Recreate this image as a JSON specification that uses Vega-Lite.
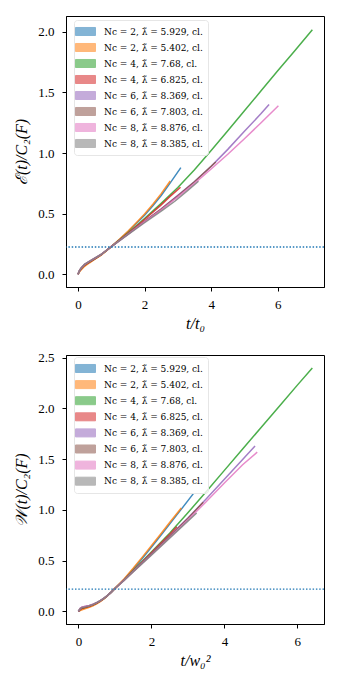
{
  "$schema": "https://vega.github.io/schema/vega-lite/v6.json",
  "padding": {"left": 12, "top": 15, "right": 5, "bottom": 5},
  "background": "white",
  "config": {
    "font": "Liberation Serif, DejaVu Serif, serif",
    "view": {"stroke": "black", "strokeWidth": 1},
    "axis": {"grid": false, "domainColor": "black", "tickColor": "black", "tickSize": 4, "labelFontSize": 13, "titleFontSize": 16, "titleFontWeight": "normal", "labelColor": "black", "titleColor": "black", "labelFont": "Liberation Serif, DejaVu Serif, serif", "titleFont": "Liberation Serif, DejaVu Serif, serif", "titleFontStyle": "italic"},
    "legend": {"labelFont": "DejaVu Serif, serif", "labelFontSize": 9, "labelColor": "black"}
  },
  "spacing": 19,
  "resolve": {"legend": {"color": "independent"}, "scale": {"x": "independent", "y": "independent"}},
  "datasets": {
    "E": [
      {"s": "Nc = 2, λ̃ = 5.929, cl.", "t": 0, "v": 0}, {"s": "Nc = 2, λ̃ = 5.929, cl.", "t": 0.05, "v": 0.028}, {"s": "Nc = 2, λ̃ = 5.929, cl.", "t": 0.1, "v": 0.046}, {"s": "Nc = 2, λ̃ = 5.929, cl.", "t": 0.2, "v": 0.074}, {"s": "Nc = 2, λ̃ = 5.929, cl.", "t": 0.35, "v": 0.101}, {"s": "Nc = 2, λ̃ = 5.929, cl.", "t": 0.5, "v": 0.126}, {"s": "Nc = 2, λ̃ = 5.929, cl.", "t": 0.7, "v": 0.161}, {"s": "Nc = 2, λ̃ = 5.929, cl.", "t": 0.85, "v": 0.194}, {"s": "Nc = 2, λ̃ = 5.929, cl.", "t": 1.0, "v": 0.228}, {"s": "Nc = 2, λ̃ = 5.929, cl.", "t": 1.25, "v": 0.287}, {"s": "Nc = 2, λ̃ = 5.929, cl.", "t": 1.5, "v": 0.35}, {"s": "Nc = 2, λ̃ = 5.929, cl.", "t": 1.75, "v": 0.418}, {"s": "Nc = 2, λ̃ = 5.929, cl.", "t": 2.0, "v": 0.487}, {"s": "Nc = 2, λ̃ = 5.929, cl.", "t": 2.25, "v": 0.565}, {"s": "Nc = 2, λ̃ = 5.929, cl.", "t": 2.5, "v": 0.65}, {"s": "Nc = 2, λ̃ = 5.929, cl.", "t": 2.75, "v": 0.745}, {"s": "Nc = 2, λ̃ = 5.929, cl.", "t": 3.09, "v": 0.879},
      {"s": "Nc = 2, λ̃ = 5.402, cl.", "t": 0, "v": 0}, {"s": "Nc = 2, λ̃ = 5.402, cl.", "t": 0.05, "v": 0.022}, {"s": "Nc = 2, λ̃ = 5.402, cl.", "t": 0.1, "v": 0.038}, {"s": "Nc = 2, λ̃ = 5.402, cl.", "t": 0.2, "v": 0.066}, {"s": "Nc = 2, λ̃ = 5.402, cl.", "t": 0.35, "v": 0.095}, {"s": "Nc = 2, λ̃ = 5.402, cl.", "t": 0.5, "v": 0.122}, {"s": "Nc = 2, λ̃ = 5.402, cl.", "t": 0.7, "v": 0.158}, {"s": "Nc = 2, λ̃ = 5.402, cl.", "t": 0.85, "v": 0.193}, {"s": "Nc = 2, λ̃ = 5.402, cl.", "t": 1.0, "v": 0.229}, {"s": "Nc = 2, λ̃ = 5.402, cl.", "t": 1.25, "v": 0.29}, {"s": "Nc = 2, λ̃ = 5.402, cl.", "t": 1.5, "v": 0.355}, {"s": "Nc = 2, λ̃ = 5.402, cl.", "t": 1.75, "v": 0.425}, {"s": "Nc = 2, λ̃ = 5.402, cl.", "t": 2.0, "v": 0.497}, {"s": "Nc = 2, λ̃ = 5.402, cl.", "t": 2.25, "v": 0.577}, {"s": "Nc = 2, λ̃ = 5.402, cl.", "t": 2.5, "v": 0.665}, {"s": "Nc = 2, λ̃ = 5.402, cl.", "t": 2.77, "v": 0.769},
      {"s": "Nc = 4, λ̃ = 7.68, cl.", "t": 0, "v": 0}, {"s": "Nc = 4, λ̃ = 7.68, cl.", "t": 0.05, "v": 0.03}, {"s": "Nc = 4, λ̃ = 7.68, cl.", "t": 0.1, "v": 0.048}, {"s": "Nc = 4, λ̃ = 7.68, cl.", "t": 0.2, "v": 0.076}, {"s": "Nc = 4, λ̃ = 7.68, cl.", "t": 0.35, "v": 0.103}, {"s": "Nc = 4, λ̃ = 7.68, cl.", "t": 0.5, "v": 0.128}, {"s": "Nc = 4, λ̃ = 7.68, cl.", "t": 0.7, "v": 0.162}, {"s": "Nc = 4, λ̃ = 7.68, cl.", "t": 0.85, "v": 0.195}, {"s": "Nc = 4, λ̃ = 7.68, cl.", "t": 1.0, "v": 0.228}, {"s": "Nc = 4, λ̃ = 7.68, cl.", "t": 1.25, "v": 0.283}, {"s": "Nc = 4, λ̃ = 7.68, cl.", "t": 1.5, "v": 0.34}, {"s": "Nc = 4, λ̃ = 7.68, cl.", "t": 2.0, "v": 0.46}, {"s": "Nc = 4, λ̃ = 7.68, cl.", "t": 2.5, "v": 0.585}, {"s": "Nc = 4, λ̃ = 7.68, cl.", "t": 3.0, "v": 0.715}, {"s": "Nc = 4, λ̃ = 7.68, cl.", "t": 3.5, "v": 0.862}, {"s": "Nc = 4, λ̃ = 7.68, cl.", "t": 4.0, "v": 1.02}, {"s": "Nc = 4, λ̃ = 7.68, cl.", "t": 4.5, "v": 1.183}, {"s": "Nc = 4, λ̃ = 7.68, cl.", "t": 5.0, "v": 1.348}, {"s": "Nc = 4, λ̃ = 7.68, cl.", "t": 5.5, "v": 1.513}, {"s": "Nc = 4, λ̃ = 7.68, cl.", "t": 6.0, "v": 1.678}, {"s": "Nc = 4, λ̃ = 7.68, cl.", "t": 6.5, "v": 1.84}, {"s": "Nc = 4, λ̃ = 7.68, cl.", "t": 7.04, "v": 2.017},
      {"s": "Nc = 4, λ̃ = 6.825, cl.", "t": 0, "v": 0}, {"s": "Nc = 4, λ̃ = 6.825, cl.", "t": 0.05, "v": 0.029}, {"s": "Nc = 4, λ̃ = 6.825, cl.", "t": 0.1, "v": 0.047}, {"s": "Nc = 4, λ̃ = 6.825, cl.", "t": 0.2, "v": 0.075}, {"s": "Nc = 4, λ̃ = 6.825, cl.", "t": 0.35, "v": 0.102}, {"s": "Nc = 4, λ̃ = 6.825, cl.", "t": 0.5, "v": 0.127}, {"s": "Nc = 4, λ̃ = 6.825, cl.", "t": 0.7, "v": 0.162}, {"s": "Nc = 4, λ̃ = 6.825, cl.", "t": 0.85, "v": 0.195}, {"s": "Nc = 4, λ̃ = 6.825, cl.", "t": 1.0, "v": 0.228}, {"s": "Nc = 4, λ̃ = 6.825, cl.", "t": 1.25, "v": 0.281}, {"s": "Nc = 4, λ̃ = 6.825, cl.", "t": 1.5, "v": 0.336}, {"s": "Nc = 4, λ̃ = 6.825, cl.", "t": 2.0, "v": 0.452}, {"s": "Nc = 4, λ̃ = 6.825, cl.", "t": 2.5, "v": 0.572}, {"s": "Nc = 4, λ̃ = 6.825, cl.", "t": 2.75, "v": 0.638}, {"s": "Nc = 4, λ̃ = 6.825, cl.", "t": 3.08, "v": 0.718},
      {"s": "Nc = 6, λ̃ = 8.369, cl.", "t": 0, "v": 0}, {"s": "Nc = 6, λ̃ = 8.369, cl.", "t": 0.05, "v": 0.033}, {"s": "Nc = 6, λ̃ = 8.369, cl.", "t": 0.1, "v": 0.052}, {"s": "Nc = 6, λ̃ = 8.369, cl.", "t": 0.2, "v": 0.081}, {"s": "Nc = 6, λ̃ = 8.369, cl.", "t": 0.35, "v": 0.107}, {"s": "Nc = 6, λ̃ = 8.369, cl.", "t": 0.5, "v": 0.131}, {"s": "Nc = 6, λ̃ = 8.369, cl.", "t": 0.7, "v": 0.164}, {"s": "Nc = 6, λ̃ = 8.369, cl.", "t": 0.85, "v": 0.196}, {"s": "Nc = 6, λ̃ = 8.369, cl.", "t": 1.0, "v": 0.228}, {"s": "Nc = 6, λ̃ = 8.369, cl.", "t": 1.25, "v": 0.279}, {"s": "Nc = 6, λ̃ = 8.369, cl.", "t": 1.5, "v": 0.331}, {"s": "Nc = 6, λ̃ = 8.369, cl.", "t": 2.0, "v": 0.437}, {"s": "Nc = 6, λ̃ = 8.369, cl.", "t": 2.5, "v": 0.54}, {"s": "Nc = 6, λ̃ = 8.369, cl.", "t": 3.0, "v": 0.65}, {"s": "Nc = 6, λ̃ = 8.369, cl.", "t": 3.5, "v": 0.765}, {"s": "Nc = 6, λ̃ = 8.369, cl.", "t": 4.0, "v": 0.89}, {"s": "Nc = 6, λ̃ = 8.369, cl.", "t": 4.5, "v": 1.03}, {"s": "Nc = 6, λ̃ = 8.369, cl.", "t": 5.0, "v": 1.18}, {"s": "Nc = 6, λ̃ = 8.369, cl.", "t": 5.5, "v": 1.325}, {"s": "Nc = 6, λ̃ = 8.369, cl.", "t": 5.74, "v": 1.4},
      {"s": "Nc = 6, λ̃ = 7.803, cl.", "t": 0, "v": 0}, {"s": "Nc = 6, λ̃ = 7.803, cl.", "t": 0.05, "v": 0.032}, {"s": "Nc = 6, λ̃ = 7.803, cl.", "t": 0.1, "v": 0.051}, {"s": "Nc = 6, λ̃ = 7.803, cl.", "t": 0.2, "v": 0.08}, {"s": "Nc = 6, λ̃ = 7.803, cl.", "t": 0.35, "v": 0.106}, {"s": "Nc = 6, λ̃ = 7.803, cl.", "t": 0.5, "v": 0.13}, {"s": "Nc = 6, λ̃ = 7.803, cl.", "t": 0.7, "v": 0.164}, {"s": "Nc = 6, λ̃ = 7.803, cl.", "t": 0.85, "v": 0.196}, {"s": "Nc = 6, λ̃ = 7.803, cl.", "t": 1.0, "v": 0.228}, {"s": "Nc = 6, λ̃ = 7.803, cl.", "t": 1.25, "v": 0.279}, {"s": "Nc = 6, λ̃ = 7.803, cl.", "t": 1.5, "v": 0.331}, {"s": "Nc = 6, λ̃ = 7.803, cl.", "t": 2.0, "v": 0.436}, {"s": "Nc = 6, λ̃ = 7.803, cl.", "t": 2.5, "v": 0.538}, {"s": "Nc = 6, λ̃ = 7.803, cl.", "t": 3.0, "v": 0.647}, {"s": "Nc = 6, λ̃ = 7.803, cl.", "t": 3.5, "v": 0.763}, {"s": "Nc = 6, λ̃ = 7.803, cl.", "t": 4.14, "v": 0.926},
      {"s": "Nc = 8, λ̃ = 8.876, cl.", "t": 0, "v": 0}, {"s": "Nc = 8, λ̃ = 8.876, cl.", "t": 0.05, "v": 0.034}, {"s": "Nc = 8, λ̃ = 8.876, cl.", "t": 0.1, "v": 0.053}, {"s": "Nc = 8, λ̃ = 8.876, cl.", "t": 0.2, "v": 0.082}, {"s": "Nc = 8, λ̃ = 8.876, cl.", "t": 0.35, "v": 0.108}, {"s": "Nc = 8, λ̃ = 8.876, cl.", "t": 0.5, "v": 0.132}, {"s": "Nc = 8, λ̃ = 8.876, cl.", "t": 0.7, "v": 0.165}, {"s": "Nc = 8, λ̃ = 8.876, cl.", "t": 0.85, "v": 0.196}, {"s": "Nc = 8, λ̃ = 8.876, cl.", "t": 1.0, "v": 0.228}, {"s": "Nc = 8, λ̃ = 8.876, cl.", "t": 1.25, "v": 0.278}, {"s": "Nc = 8, λ̃ = 8.876, cl.", "t": 1.5, "v": 0.329}, {"s": "Nc = 8, λ̃ = 8.876, cl.", "t": 2.0, "v": 0.432}, {"s": "Nc = 8, λ̃ = 8.876, cl.", "t": 2.5, "v": 0.532}, {"s": "Nc = 8, λ̃ = 8.876, cl.", "t": 3.0, "v": 0.638}, {"s": "Nc = 8, λ̃ = 8.876, cl.", "t": 3.5, "v": 0.75}, {"s": "Nc = 8, λ̃ = 8.876, cl.", "t": 4.0, "v": 0.868}, {"s": "Nc = 8, λ̃ = 8.876, cl.", "t": 4.5, "v": 0.99}, {"s": "Nc = 8, λ̃ = 8.876, cl.", "t": 5.0, "v": 1.118}, {"s": "Nc = 8, λ̃ = 8.876, cl.", "t": 5.5, "v": 1.25}, {"s": "Nc = 8, λ̃ = 8.876, cl.", "t": 6.02, "v": 1.39},
      {"s": "Nc = 8, λ̃ = 8.385, cl.", "t": 0, "v": 0}, {"s": "Nc = 8, λ̃ = 8.385, cl.", "t": 0.05, "v": 0.034}, {"s": "Nc = 8, λ̃ = 8.385, cl.", "t": 0.1, "v": 0.054}, {"s": "Nc = 8, λ̃ = 8.385, cl.", "t": 0.2, "v": 0.083}, {"s": "Nc = 8, λ̃ = 8.385, cl.", "t": 0.35, "v": 0.109}, {"s": "Nc = 8, λ̃ = 8.385, cl.", "t": 0.5, "v": 0.133}, {"s": "Nc = 8, λ̃ = 8.385, cl.", "t": 0.7, "v": 0.165}, {"s": "Nc = 8, λ̃ = 8.385, cl.", "t": 0.85, "v": 0.196}, {"s": "Nc = 8, λ̃ = 8.385, cl.", "t": 1.0, "v": 0.227}, {"s": "Nc = 8, λ̃ = 8.385, cl.", "t": 1.25, "v": 0.277}, {"s": "Nc = 8, λ̃ = 8.385, cl.", "t": 1.5, "v": 0.327}, {"s": "Nc = 8, λ̃ = 8.385, cl.", "t": 2.0, "v": 0.425}, {"s": "Nc = 8, λ̃ = 8.385, cl.", "t": 2.5, "v": 0.52}, {"s": "Nc = 8, λ̃ = 8.385, cl.", "t": 2.92, "v": 0.604}, {"s": "Nc = 8, λ̃ = 8.385, cl.", "t": 3.3, "v": 0.692}, {"s": "Nc = 8, λ̃ = 8.385, cl.", "t": 3.62, "v": 0.767}
    ],
    "W": [
      {"s": "Nc = 2, λ̃ = 5.929, cl.", "t": 0, "v": 0}, {"s": "Nc = 2, λ̃ = 5.929, cl.", "t": 0.05, "v": 0.018}, {"s": "Nc = 2, λ̃ = 5.929, cl.", "t": 0.1, "v": 0.028}, {"s": "Nc = 2, λ̃ = 5.929, cl.", "t": 0.2, "v": 0.038}, {"s": "Nc = 2, λ̃ = 5.929, cl.", "t": 0.3, "v": 0.049}, {"s": "Nc = 2, λ̃ = 5.929, cl.", "t": 0.4, "v": 0.062}, {"s": "Nc = 2, λ̃ = 5.929, cl.", "t": 0.5, "v": 0.08}, {"s": "Nc = 2, λ̃ = 5.929, cl.", "t": 0.6, "v": 0.101}, {"s": "Nc = 2, λ̃ = 5.929, cl.", "t": 0.7, "v": 0.126}, {"s": "Nc = 2, λ̃ = 5.929, cl.", "t": 0.8, "v": 0.156}, {"s": "Nc = 2, λ̃ = 5.929, cl.", "t": 0.9, "v": 0.19}, {"s": "Nc = 2, λ̃ = 5.929, cl.", "t": 1.0, "v": 0.226}, {"s": "Nc = 2, λ̃ = 5.929, cl.", "t": 1.25, "v": 0.315}, {"s": "Nc = 2, λ̃ = 5.929, cl.", "t": 1.5, "v": 0.415}, {"s": "Nc = 2, λ̃ = 5.929, cl.", "t": 1.75, "v": 0.522}, {"s": "Nc = 2, λ̃ = 5.929, cl.", "t": 2.0, "v": 0.632}, {"s": "Nc = 2, λ̃ = 5.929, cl.", "t": 2.25, "v": 0.745}, {"s": "Nc = 2, λ̃ = 5.929, cl.", "t": 2.5, "v": 0.86}, {"s": "Nc = 2, λ̃ = 5.929, cl.", "t": 2.8, "v": 0.998}, {"s": "Nc = 2, λ̃ = 5.929, cl.", "t": 3.15, "v": 1.161},
      {"s": "Nc = 2, λ̃ = 5.402, cl.", "t": 0, "v": 0}, {"s": "Nc = 2, λ̃ = 5.402, cl.", "t": 0.05, "v": 0.008}, {"s": "Nc = 2, λ̃ = 5.402, cl.", "t": 0.1, "v": 0.016}, {"s": "Nc = 2, λ̃ = 5.402, cl.", "t": 0.2, "v": 0.028}, {"s": "Nc = 2, λ̃ = 5.402, cl.", "t": 0.3, "v": 0.04}, {"s": "Nc = 2, λ̃ = 5.402, cl.", "t": 0.4, "v": 0.055}, {"s": "Nc = 2, λ̃ = 5.402, cl.", "t": 0.5, "v": 0.074}, {"s": "Nc = 2, λ̃ = 5.402, cl.", "t": 0.6, "v": 0.097}, {"s": "Nc = 2, λ̃ = 5.402, cl.", "t": 0.7, "v": 0.123}, {"s": "Nc = 2, λ̃ = 5.402, cl.", "t": 0.8, "v": 0.154}, {"s": "Nc = 2, λ̃ = 5.402, cl.", "t": 0.9, "v": 0.189}, {"s": "Nc = 2, λ̃ = 5.402, cl.", "t": 1.0, "v": 0.227}, {"s": "Nc = 2, λ̃ = 5.402, cl.", "t": 1.25, "v": 0.32}, {"s": "Nc = 2, λ̃ = 5.402, cl.", "t": 1.5, "v": 0.425}, {"s": "Nc = 2, λ̃ = 5.402, cl.", "t": 1.75, "v": 0.535}, {"s": "Nc = 2, λ̃ = 5.402, cl.", "t": 2.0, "v": 0.647}, {"s": "Nc = 2, λ̃ = 5.402, cl.", "t": 2.25, "v": 0.76}, {"s": "Nc = 2, λ̃ = 5.402, cl.", "t": 2.5, "v": 0.877}, {"s": "Nc = 2, λ̃ = 5.402, cl.", "t": 2.82, "v": 1.02},
      {"s": "Nc = 4, λ̃ = 7.68, cl.", "t": 0, "v": 0}, {"s": "Nc = 4, λ̃ = 7.68, cl.", "t": 0.05, "v": 0.022}, {"s": "Nc = 4, λ̃ = 7.68, cl.", "t": 0.1, "v": 0.032}, {"s": "Nc = 4, λ̃ = 7.68, cl.", "t": 0.2, "v": 0.042}, {"s": "Nc = 4, λ̃ = 7.68, cl.", "t": 0.3, "v": 0.052}, {"s": "Nc = 4, λ̃ = 7.68, cl.", "t": 0.4, "v": 0.065}, {"s": "Nc = 4, λ̃ = 7.68, cl.", "t": 0.5, "v": 0.083}, {"s": "Nc = 4, λ̃ = 7.68, cl.", "t": 0.6, "v": 0.104}, {"s": "Nc = 4, λ̃ = 7.68, cl.", "t": 0.7, "v": 0.128}, {"s": "Nc = 4, λ̃ = 7.68, cl.", "t": 0.8, "v": 0.157}, {"s": "Nc = 4, λ̃ = 7.68, cl.", "t": 0.9, "v": 0.19}, {"s": "Nc = 4, λ̃ = 7.68, cl.", "t": 1.0, "v": 0.226}, {"s": "Nc = 4, λ̃ = 7.68, cl.", "t": 1.25, "v": 0.31}, {"s": "Nc = 4, λ̃ = 7.68, cl.", "t": 1.5, "v": 0.403}, {"s": "Nc = 4, λ̃ = 7.68, cl.", "t": 2.0, "v": 0.585}, {"s": "Nc = 4, λ̃ = 7.68, cl.", "t": 2.5, "v": 0.77}, {"s": "Nc = 4, λ̃ = 7.68, cl.", "t": 3.0, "v": 0.972}, {"s": "Nc = 4, λ̃ = 7.68, cl.", "t": 3.5, "v": 1.18}, {"s": "Nc = 4, λ̃ = 7.68, cl.", "t": 4.0, "v": 1.39}, {"s": "Nc = 4, λ̃ = 7.68, cl.", "t": 4.5, "v": 1.6}, {"s": "Nc = 4, λ̃ = 7.68, cl.", "t": 5.0, "v": 1.81}, {"s": "Nc = 4, λ̃ = 7.68, cl.", "t": 5.5, "v": 2.02}, {"s": "Nc = 4, λ̃ = 7.68, cl.", "t": 6.0, "v": 2.23}, {"s": "Nc = 4, λ̃ = 7.68, cl.", "t": 6.41, "v": 2.4},
      {"s": "Nc = 4, λ̃ = 6.825, cl.", "t": 0, "v": 0}, {"s": "Nc = 4, λ̃ = 6.825, cl.", "t": 0.05, "v": 0.02}, {"s": "Nc = 4, λ̃ = 6.825, cl.", "t": 0.1, "v": 0.03}, {"s": "Nc = 4, λ̃ = 6.825, cl.", "t": 0.2, "v": 0.04}, {"s": "Nc = 4, λ̃ = 6.825, cl.", "t": 0.3, "v": 0.051}, {"s": "Nc = 4, λ̃ = 6.825, cl.", "t": 0.4, "v": 0.064}, {"s": "Nc = 4, λ̃ = 6.825, cl.", "t": 0.5, "v": 0.082}, {"s": "Nc = 4, λ̃ = 6.825, cl.", "t": 0.6, "v": 0.103}, {"s": "Nc = 4, λ̃ = 6.825, cl.", "t": 0.7, "v": 0.128}, {"s": "Nc = 4, λ̃ = 6.825, cl.", "t": 0.8, "v": 0.157}, {"s": "Nc = 4, λ̃ = 6.825, cl.", "t": 0.9, "v": 0.19}, {"s": "Nc = 4, λ̃ = 6.825, cl.", "t": 1.0, "v": 0.226}, {"s": "Nc = 4, λ̃ = 6.825, cl.", "t": 1.25, "v": 0.308}, {"s": "Nc = 4, λ̃ = 6.825, cl.", "t": 1.5, "v": 0.398}, {"s": "Nc = 4, λ̃ = 6.825, cl.", "t": 2.0, "v": 0.578}, {"s": "Nc = 4, λ̃ = 6.825, cl.", "t": 2.25, "v": 0.668}, {"s": "Nc = 4, λ̃ = 6.825, cl.", "t": 2.5, "v": 0.758}, {"s": "Nc = 4, λ̃ = 6.825, cl.", "t": 2.7, "v": 0.835},
      {"s": "Nc = 6, λ̃ = 8.369, cl.", "t": 0, "v": 0}, {"s": "Nc = 6, λ̃ = 8.369, cl.", "t": 0.05, "v": 0.03}, {"s": "Nc = 6, λ̃ = 8.369, cl.", "t": 0.1, "v": 0.042}, {"s": "Nc = 6, λ̃ = 8.369, cl.", "t": 0.2, "v": 0.05}, {"s": "Nc = 6, λ̃ = 8.369, cl.", "t": 0.3, "v": 0.058}, {"s": "Nc = 6, λ̃ = 8.369, cl.", "t": 0.4, "v": 0.07}, {"s": "Nc = 6, λ̃ = 8.369, cl.", "t": 0.5, "v": 0.086}, {"s": "Nc = 6, λ̃ = 8.369, cl.", "t": 0.6, "v": 0.106}, {"s": "Nc = 6, λ̃ = 8.369, cl.", "t": 0.7, "v": 0.13}, {"s": "Nc = 6, λ̃ = 8.369, cl.", "t": 0.8, "v": 0.158}, {"s": "Nc = 6, λ̃ = 8.369, cl.", "t": 0.9, "v": 0.19}, {"s": "Nc = 6, λ̃ = 8.369, cl.", "t": 1.0, "v": 0.226}, {"s": "Nc = 6, λ̃ = 8.369, cl.", "t": 1.25, "v": 0.307}, {"s": "Nc = 6, λ̃ = 8.369, cl.", "t": 1.5, "v": 0.395}, {"s": "Nc = 6, λ̃ = 8.369, cl.", "t": 2.0, "v": 0.568}, {"s": "Nc = 6, λ̃ = 8.369, cl.", "t": 2.5, "v": 0.742}, {"s": "Nc = 6, λ̃ = 8.369, cl.", "t": 3.0, "v": 0.92}, {"s": "Nc = 6, λ̃ = 8.369, cl.", "t": 3.5, "v": 1.108}, {"s": "Nc = 6, λ̃ = 8.369, cl.", "t": 4.0, "v": 1.302}, {"s": "Nc = 6, λ̃ = 8.369, cl.", "t": 4.5, "v": 1.497}, {"s": "Nc = 6, λ̃ = 8.369, cl.", "t": 4.84, "v": 1.63},
      {"s": "Nc = 6, λ̃ = 7.803, cl.", "t": 0, "v": 0}, {"s": "Nc = 6, λ̃ = 7.803, cl.", "t": 0.05, "v": 0.026}, {"s": "Nc = 6, λ̃ = 7.803, cl.", "t": 0.1, "v": 0.037}, {"s": "Nc = 6, λ̃ = 7.803, cl.", "t": 0.2, "v": 0.046}, {"s": "Nc = 6, λ̃ = 7.803, cl.", "t": 0.3, "v": 0.055}, {"s": "Nc = 6, λ̃ = 7.803, cl.", "t": 0.4, "v": 0.068}, {"s": "Nc = 6, λ̃ = 7.803, cl.", "t": 0.5, "v": 0.085}, {"s": "Nc = 6, λ̃ = 7.803, cl.", "t": 0.6, "v": 0.105}, {"s": "Nc = 6, λ̃ = 7.803, cl.", "t": 0.7, "v": 0.129}, {"s": "Nc = 6, λ̃ = 7.803, cl.", "t": 0.8, "v": 0.158}, {"s": "Nc = 6, λ̃ = 7.803, cl.", "t": 0.9, "v": 0.19}, {"s": "Nc = 6, λ̃ = 7.803, cl.", "t": 1.0, "v": 0.226}, {"s": "Nc = 6, λ̃ = 7.803, cl.", "t": 1.25, "v": 0.307}, {"s": "Nc = 6, λ̃ = 7.803, cl.", "t": 1.5, "v": 0.394}, {"s": "Nc = 6, λ̃ = 7.803, cl.", "t": 2.0, "v": 0.566}, {"s": "Nc = 6, λ̃ = 7.803, cl.", "t": 2.5, "v": 0.74}, {"s": "Nc = 6, λ̃ = 7.803, cl.", "t": 3.0, "v": 0.915}, {"s": "Nc = 6, λ̃ = 7.803, cl.", "t": 3.42, "v": 1.075},
      {"s": "Nc = 8, λ̃ = 8.876, cl.", "t": 0, "v": 0}, {"s": "Nc = 8, λ̃ = 8.876, cl.", "t": 0.05, "v": 0.031}, {"s": "Nc = 8, λ̃ = 8.876, cl.", "t": 0.1, "v": 0.043}, {"s": "Nc = 8, λ̃ = 8.876, cl.", "t": 0.2, "v": 0.051}, {"s": "Nc = 8, λ̃ = 8.876, cl.", "t": 0.3, "v": 0.059}, {"s": "Nc = 8, λ̃ = 8.876, cl.", "t": 0.4, "v": 0.071}, {"s": "Nc = 8, λ̃ = 8.876, cl.", "t": 0.5, "v": 0.087}, {"s": "Nc = 8, λ̃ = 8.876, cl.", "t": 0.6, "v": 0.107}, {"s": "Nc = 8, λ̃ = 8.876, cl.", "t": 0.7, "v": 0.13}, {"s": "Nc = 8, λ̃ = 8.876, cl.", "t": 0.8, "v": 0.158}, {"s": "Nc = 8, λ̃ = 8.876, cl.", "t": 0.9, "v": 0.19}, {"s": "Nc = 8, λ̃ = 8.876, cl.", "t": 1.0, "v": 0.226}, {"s": "Nc = 8, λ̃ = 8.876, cl.", "t": 1.25, "v": 0.306}, {"s": "Nc = 8, λ̃ = 8.876, cl.", "t": 1.5, "v": 0.392}, {"s": "Nc = 8, λ̃ = 8.876, cl.", "t": 2.0, "v": 0.558}, {"s": "Nc = 8, λ̃ = 8.876, cl.", "t": 2.5, "v": 0.728}, {"s": "Nc = 8, λ̃ = 8.876, cl.", "t": 3.0, "v": 0.902}, {"s": "Nc = 8, λ̃ = 8.876, cl.", "t": 3.5, "v": 1.08}, {"s": "Nc = 8, λ̃ = 8.876, cl.", "t": 4.0, "v": 1.265}, {"s": "Nc = 8, λ̃ = 8.876, cl.", "t": 4.5, "v": 1.445}, {"s": "Nc = 8, λ̃ = 8.876, cl.", "t": 4.9, "v": 1.57},
      {"s": "Nc = 8, λ̃ = 8.385, cl.", "t": 0, "v": 0}, {"s": "Nc = 8, λ̃ = 8.385, cl.", "t": 0.05, "v": 0.028}, {"s": "Nc = 8, λ̃ = 8.385, cl.", "t": 0.1, "v": 0.039}, {"s": "Nc = 8, λ̃ = 8.385, cl.", "t": 0.2, "v": 0.047}, {"s": "Nc = 8, λ̃ = 8.385, cl.", "t": 0.3, "v": 0.056}, {"s": "Nc = 8, λ̃ = 8.385, cl.", "t": 0.4, "v": 0.069}, {"s": "Nc = 8, λ̃ = 8.385, cl.", "t": 0.5, "v": 0.086}, {"s": "Nc = 8, λ̃ = 8.385, cl.", "t": 0.6, "v": 0.106}, {"s": "Nc = 8, λ̃ = 8.385, cl.", "t": 0.7, "v": 0.13}, {"s": "Nc = 8, λ̃ = 8.385, cl.", "t": 0.8, "v": 0.158}, {"s": "Nc = 8, λ̃ = 8.385, cl.", "t": 0.9, "v": 0.19}, {"s": "Nc = 8, λ̃ = 8.385, cl.", "t": 1.0, "v": 0.226}, {"s": "Nc = 8, λ̃ = 8.385, cl.", "t": 1.25, "v": 0.305}, {"s": "Nc = 8, λ̃ = 8.385, cl.", "t": 1.5, "v": 0.39}, {"s": "Nc = 8, λ̃ = 8.385, cl.", "t": 2.0, "v": 0.555}, {"s": "Nc = 8, λ̃ = 8.385, cl.", "t": 2.5, "v": 0.722}, {"s": "Nc = 8, λ̃ = 8.385, cl.", "t": 3.0, "v": 0.89}, {"s": "Nc = 8, λ̃ = 8.385, cl.", "t": 3.24, "v": 0.97}
    ]
  },
  "vconcat": [
    {
      "width": 258,
      "height": 271,
      "layer": [
        {
          "data": {"name": "E"},
          "mark": {"type": "line", "strokeWidth": 1.5, "opacity": 0.85, "clip": true},
          "encoding": {
            "x": {"field": "t", "type": "quantitative", "scale": {"domain": [-0.36, 7.39], "nice": false, "zero": false}, "axis": {"values": [0, 2, 4, 6], "title": "t/t₀", "labelPadding": 7, "titlePadding": 4}},
            "y": {"field": "v", "type": "quantitative", "scale": {"domain": [-0.105, 2.13], "nice": false, "zero": false}, "axis": {"values": [0, 0.5, 1, 1.5, 2], "format": ".1f", "title": "ℰ(t)/C₂(F)", "labelPadding": 8, "titlePadding": 7, "minExtent": 30, "maxExtent": 30}},
            "color": {"field": "s", "type": "nominal", "sort": null,
              "scale": {"domain": ["Nc = 2, λ̃ = 5.929, cl.", "Nc = 2, λ̃ = 5.402, cl.", "Nc = 4, λ̃ = 7.68, cl.", "Nc = 4, λ̃ = 6.825, cl.", "Nc = 6, λ̃ = 8.369, cl.", "Nc = 6, λ̃ = 7.803, cl.", "Nc = 8, λ̃ = 8.876, cl.", "Nc = 8, λ̃ = 8.385, cl."], "range": ["#1f77b4", "#ff7f0e", "#2ca02c", "#d62728", "#9467bd", "#8c564b", "#e377c2", "#7f7f7f"]},
              "legend": {"title": null, "orient": "none", "legendX": 8, "legendY": 4, "padding": 5, "rowPadding": 3, "symbolType": "M-1.667,-0.667H1.667V0.667H-1.667Z", "symbolSize": 144, "symbolStrokeWidth": 1, "symbolOpacity": 0.55, "labelOffset": 12, "fillColor": "rgba(255,255,255,0.8)", "strokeColor": "#e6e6e6", "cornerRadius": 3,
                "encode": {"symbols": {"update": {"fill": {"scale": "color", "field": "value"}}}}}
            }
          }
        },
        {
          "data": {"values": [{"h": 0.225}]},
          "mark": {"type": "rule", "color": "#1f77b4", "strokeWidth": 1.3, "strokeDash": [1.5, 1.8]},
          "encoding": {"y": {"field": "h", "type": "quantitative"}}
        }
      ]
    },
    {
      "width": 258,
      "height": 269,
      "layer": [
        {
          "data": {"name": "W"},
          "mark": {"type": "line", "strokeWidth": 1.5, "opacity": 0.85, "clip": true},
          "encoding": {
            "x": {"field": "t", "type": "quantitative", "scale": {"domain": [-0.34, 6.73], "nice": false, "zero": false}, "axis": {"values": [0, 2, 4, 6], "title": "t/w₀²", "labelPadding": 7, "titlePadding": 4}},
            "y": {"field": "v", "type": "quantitative", "scale": {"domain": [-0.124, 2.527], "nice": false, "zero": false}, "axis": {"values": [0, 0.5, 1, 1.5, 2, 2.5], "format": ".1f", "title": "𝒲(t)/C₂(F)", "labelPadding": 8, "titlePadding": 7, "minExtent": 30, "maxExtent": 30}},
            "color": {"field": "s", "type": "nominal", "sort": null,
              "legend": {"title": null, "orient": "none", "legendX": 8, "legendY": 2, "padding": 5, "rowPadding": 3.1, "symbolType": "M-1.667,-0.667H1.667V0.667H-1.667Z", "symbolSize": 144, "symbolStrokeWidth": 1, "symbolOpacity": 0.55, "labelOffset": 12, "fillColor": "rgba(255,255,255,0.8)", "strokeColor": "#e6e6e6", "cornerRadius": 3,
                "encode": {"symbols": {"update": {"fill": {"scale": "color", "field": "value"}}}}}
            }
          }
        },
        {
          "data": {"values": [{"h": 0.22}]},
          "mark": {"type": "rule", "color": "#1f77b4", "strokeWidth": 1.3, "strokeDash": [1.5, 1.8]},
          "encoding": {"y": {"field": "h", "type": "quantitative"}}
        }
      ]
    }
  ]
}
